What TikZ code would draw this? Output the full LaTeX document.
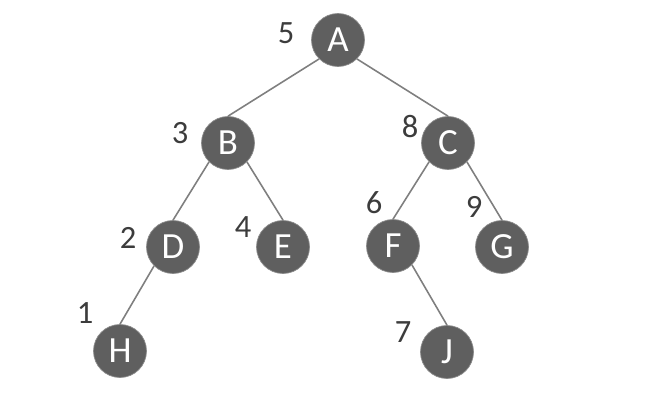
\documentclass[tikz,border=0pt]{standalone}
\usepackage{fontspec}
\setmainfont{Carlito}
\begin{document}
\begin{tikzpicture}[x=0.02cm,y=-0.02cm]

% definitions
\definecolor{nodegray}{HTML}{5F5F5F}
\definecolor{rimgray}{HTML}{8A8A8A}
\definecolor{edgegray}{HTML}{7F7F7F}
\definecolor{numgray}{HTML}{3C3C3C}

\tikzstyle{vertex} = [circle, minimum size=1.06cm, inner sep=0pt, text centered, draw=rimgray, line width=0.4pt, fill=nodegray, text=white, font=\fontsize{21}{21}\selectfont]

\tikzstyle{order} = [inner sep=0pt, text=numgray, font=\fontsize{18.5}{18.5}\selectfont]

\tikzstyle{edge} = [draw=edgegray, line width=0.9pt]

\useasboundingbox (0,0) rectangle (672,412);

% the graph
\node (a) [vertex] at (338,40) {A};
\node (b) [vertex] at (228,143) {B};
\node (c) [vertex] at (448,143) {C};
\node (d) [vertex] at (173,247) {D};
\node (e) [vertex] at (283,247) {E};
\node (f) [vertex] at (393,246) {F};
\node (g) [vertex] at (502,247) {G};
\node (h) [vertex] at (120,351) {H};
\node (j) [vertex] at (447,352) {J};

% visit order
\node (na) [order] at (286,33) {5};
\node (nb) [order] at (180,133) {3};
\node (nc) [order] at (410,127) {8};
\node (nd) [order] at (128,238) {2};
\node (ne) [order] at (243,227) {4};
\node (nf) [order] at (374,203) {6};
\node (ng) [order] at (474,207) {9};
\node (nh) [order] at (85,313) {1};
\node (nj) [order] at (403,332) {7};

\draw [edge] (a.south west) -- (b.north);
\draw [edge] (a.south east) -- (c.north);
\draw [edge] (b.south west) -- (d.north);
\draw [edge] (b.south east) -- (e.north);
\draw [edge] (c.south west) -- (f.north);
\draw [edge] (c.south east) -- (g.north);
\draw [edge] (d.south west) -- (h.north);
\draw [edge] (f.south east) -- (j.north);

\end{tikzpicture}
\end{document}
